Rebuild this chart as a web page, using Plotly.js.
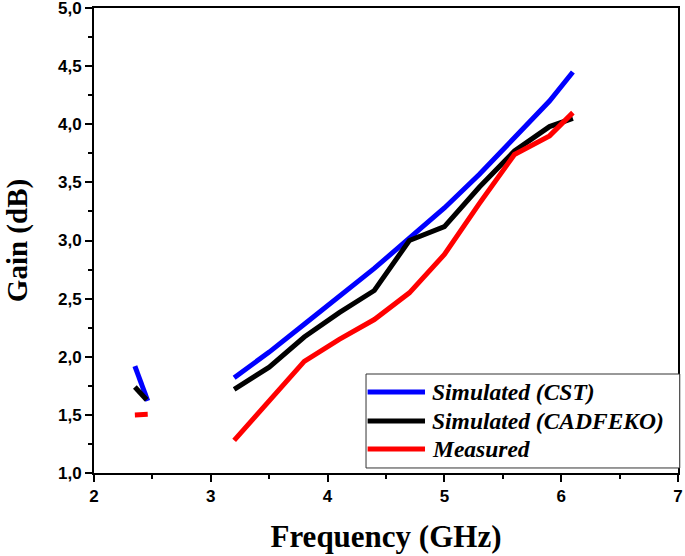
<!DOCTYPE html>
<html>
<head>
<meta charset="utf-8">
<script src="https://cdn.plot.ly/plotly-3.0.1.min.js"></script>
<style>html,body{margin:0;padding:0;background:#fff}#chart{width:685px;height:556px}</style>
</head>
<body>
<div id="chart"></div>
<script>
// Frequency (GHz); null marks the gap between the two measured bands
var freq = [2.35, 2.46, null, 3.2, 3.5, 3.8, 4.1, 4.4, 4.7, 5.0, 5.3, 5.6, 5.9, 6.1];
var freqFeko = [2.35, 2.45, null, 3.2, 3.5, 3.8, 4.1, 4.4, 4.7, 5.0, 5.3, 5.6, 5.9, 6.1];
var gainCST = [1.92, 1.62, null, 1.82, 2.04, 2.28, 2.52, 2.76, 3.02, 3.28, 3.57, 3.88, 4.20, 4.45];
var gainFEKO = [1.74, 1.63, null, 1.72, 1.91, 2.17, 2.38, 2.57, 3.00, 3.12, 3.46, 3.77, 3.98, 4.05];
var gainMeas = [1.50, 1.505, null, 1.28, 1.62, 1.96, 2.15, 2.32, 2.55, 2.88, 3.32, 3.74, 3.90, 4.10];
var seriesNames = ["Simulated (CST)", "Simulated (CADFEKO)", "Measured"];
var seriesColors = ['#0000ff', '#000000', '#ff0000'];
var xTicks = [2, 3, 4, 5, 6, 7];
var yTicks = [1.0, 1.5, 2.0, 2.5, 3.0, 3.5, 4.0, 4.5, 5.0];

var lineW = 5;
var ys = [gainCST, gainFEKO, gainMeas];
var xs = [freq, freqFeko, freq];
var traces = ys.map(function (y, i) {
  return {x: xs[i], y: y, name: seriesNames[i], mode: 'lines', showlegend: false,
          line: {color: seriesColors[i], width: lineW}, connectgaps: false};
});

// Legend drawn as a framed box in paper coordinates (longer line samples than the built-in legend)
var legBox = {x0: 0.4658, x1: 1.003, y0: 0.0108, y1: 0.2129};
var legRowsY = [0.1742, 0.1118, 0.0516];
var shapes = [{type: 'rect', xref: 'paper', yref: 'paper', x0: legBox.x0, x1: legBox.x1, y0: legBox.y0, y1: legBox.y1,
               line: {color: '#333', width: 1}, fillcolor: '#fff', layer: 'above'}];
var annotations = [];
seriesNames.forEach(function (nm, i) {
  shapes.push({type: 'line', xref: 'paper', yref: 'paper', x0: 0.4685, x1: 0.5668, y0: legRowsY[i], y1: legRowsY[i],
               line: {color: seriesColors[i], width: lineW}, layer: 'above'});
  annotations.push({xref: 'paper', yref: 'paper', x: 0.5745, y: legRowsY[i], xanchor: 'left', yanchor: 'middle',
                    text: nm, showarrow: false,
                    font: {family: 'Liberation Serif, Times New Roman, serif', size: 23.5, weight: 'bold', style: 'italic', color: '#000'}});
});

var tickFont = {family: 'Liberation Sans, Arial, sans-serif', size: 17, weight: 'bold', color: '#000'};
var titleFontX = {family: 'Liberation Serif, Times New Roman, serif', size: 31, weight: 'bold', color: '#000'};
var titleFontY = {family: 'Liberation Serif, Times New Roman, serif', size: 29, weight: 'bold', color: '#000'};

var layout = {
  width: 685, height: 556,
  margin: {l: 94, r: 7, t: 8, b: 83},
  paper_bgcolor: '#fff', plot_bgcolor: '#fff',
  separators: ',.',
  showlegend: false,
  shapes: shapes,
  annotations: annotations,
  xaxis: {
    range: [2, 7], tickvals: xTicks, ticktext: xTicks.map(String),
    showgrid: false, zeroline: false,
    showline: true, linecolor: '#000', linewidth: 2, mirror: true,
    ticks: 'outside', ticklen: 7, tickwidth: 2, tickcolor: '#000',
    minor: {dtick: 0.5, ticks: 'outside', ticklen: 4, tickwidth: 2, tickcolor: '#000', showgrid: false},
    tickfont: tickFont, ticklabeloverflow: 'allow',
    title: {text: 'Frequency (GHz)', font: titleFontX, standoff: 20}
  },
  yaxis: {
    range: [1, 5.0001], tickvals: yTicks, tickformat: '.1f',
    showgrid: false, zeroline: false,
    showline: true, linecolor: '#000', linewidth: 2, mirror: true,
    ticks: 'outside', ticklen: 7, tickwidth: 2, tickcolor: '#000',
    minor: {dtick: 0.25, ticks: 'outside', ticklen: 4, tickwidth: 2, tickcolor: '#000', showgrid: false},
    tickfont: tickFont, ticklabeloverflow: 'allow',
    title: {text: 'Gain (dB)', font: titleFontY, standoff: 22}
  }
};

Plotly.newPlot('chart', traces, layout, {displayModeBar: false, staticPlot: true});
</script>
</body>
</html>
